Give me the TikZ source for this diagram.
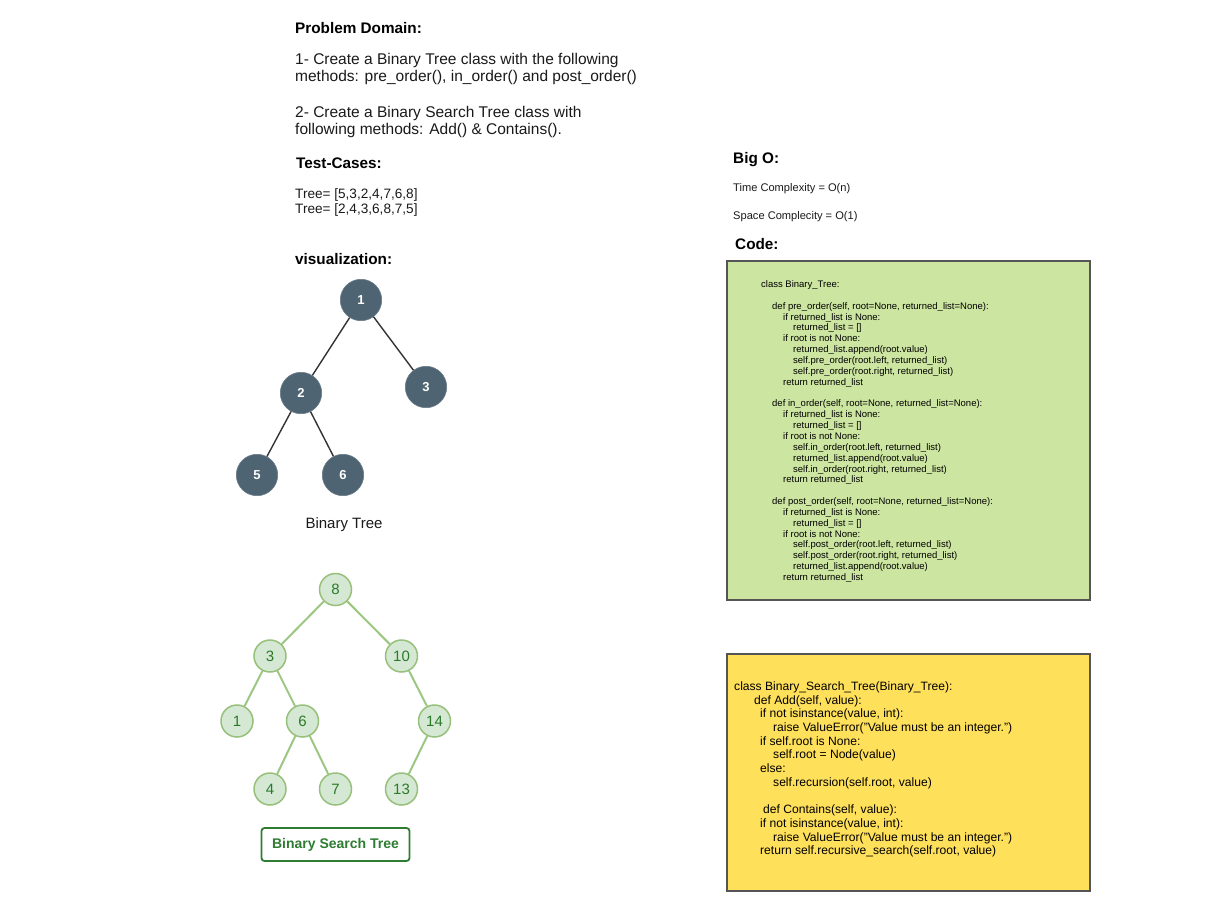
\documentclass[tikz,border=0pt]{standalone}
\usepackage{fontspec}
\setmainfont{Liberation Sans}
\definecolor{slate}{HTML}{4E6472}
\definecolor{treeedge}{HTML}{333333}
\definecolor{bstfill}{HTML}{D5E8D4}
\definecolor{bstborder}{HTML}{97C07A}
\definecolor{bstedge}{HTML}{9CC783}
\definecolor{bsttext}{HTML}{2A7A2A}
\definecolor{bstlabel}{HTML}{2E7D32}
\definecolor{codegreen}{HTML}{CCE5A0}
\definecolor{codeyellow}{HTML}{FFE05A}
\definecolor{boxborder}{HTML}{555555}
\definecolor{txt}{HTML}{1A1A1A}
\begin{document}
\begin{tikzpicture}[x=1pt,y=-1pt,
  heading/.style={anchor=base west,inner sep=0,text=black,font=\fontsize{15.3}{17}\selectfont\bfseries},
  body/.style={anchor=base west,inner sep=0,text=txt,font=\fontsize{15.5}{17}\selectfont},
  testline/.style={anchor=base west,inner sep=0,text=txt,font=\fontsize{13.6}{15}\selectfont},
  small/.style={anchor=base west,inner sep=0,text=txt,font=\fontsize{11.1}{13}\selectfont},
  btnode/.style={circle,fill=slate,draw=slate!85!white,line width=0.6pt,minimum size=41.4pt,inner sep=0,text=white,font=\fontsize{13}{15}\selectfont\bfseries},
  btedge/.style={draw=treeedge,line width=1.4pt},
  bstnode/.style={circle,fill=bstfill,draw=bstborder,line width=1.5pt,minimum size=32pt,inner sep=0,text=bsttext,font=\fontsize{15}{17}\selectfont},
  bstedge/.style={draw=bstedge,line width=2pt},
  codebox/.style={draw=boxborder,line width=1.2pt},
  codetext/.style={anchor=north west,inner sep=0,align=left,text=black}
]
\useasboundingbox[fill=white] (0,0) rectangle (1225,913);

% ---- left column texts
\node[heading] (pdh) at (295,33) {Problem Domain:};
\node[body] (pd1) at (295,64.6) {1- Create a Binary Tree class with the following};
\node[body] (pd2) at (295,81.6) {methods: pre\_order(), in\_order() and post\_order()};
\node[body] (pd3) at (295,117.6) {2- Create a Binary Search Tree class with};
\node[body] (pd4) at (295,134.6) {following methods: Add() \& Contains().};
\node[heading] (tch) at (296,168.5) {Test-Cases:};
\node[testline] (tc1) at (295,198.9) {Tree= [5,3,2,4,7,6,8]};
\node[testline] (tc2) at (295,213.9) {Tree= [2,4,3,6,8,7,5]};
\node[heading] (vis) at (295,264.5) {visualization:};

% ---- binary tree
\node[btnode] (b1) at (361,300) {1};
\node[btnode] (b2) at (301,393) {2};
\node[btnode] (b3) at (426,387) {3};
\node[btnode] (b5) at (257,475) {5};
\node[btnode] (b6) at (343,475) {6};
\draw[btedge] (b1) -- (b2);
\draw[btedge] (b1) -- (b3);
\draw[btedge] (b2) -- (b5);
\draw[btedge] (b2) -- (b6);
\node[inner sep=0,text=txt,font=\fontsize{15}{17}\selectfont] (btl) at (344,525) {Binary Tree};

% ---- binary search tree
\node[bstnode] (n8) at (335.5,589.5) {8};
\node[bstnode] (n3) at (270,656) {3};
\node[bstnode] (n10) at (401.5,656) {10};
\node[bstnode] (n1) at (237,721) {1};
\node[bstnode] (n6) at (302.5,721) {6};
\node[bstnode] (n14) at (434.5,721) {14};
\node[bstnode] (n4) at (270,789) {4};
\node[bstnode] (n7) at (335.5,789) {7};
\node[bstnode] (n13) at (401.5,789) {13};
\draw[bstedge] (n8) -- (n3);
\draw[bstedge] (n8) -- (n10);
\draw[bstedge] (n3) -- (n1);
\draw[bstedge] (n3) -- (n6);
\draw[bstedge] (n6) -- (n4);
\draw[bstedge] (n6) -- (n7);
\draw[bstedge] (n10) -- (n14);
\draw[bstedge] (n14) -- (n13);
\node[draw=bstlabel,line width=1.8pt,rounded corners=3pt,fill=white,minimum width=148pt,minimum height=33pt,inner sep=0,text=bstlabel,font=\fontsize{14}{16}\selectfont\bfseries] (bstl) at (335.5,844.5) {Binary Search Tree};

% ---- right column
\node[heading] (bigo) at (733,163.8) {Big O:};
\node[small] (tcx) at (733,191) {Time Complexity = O(n)};
\node[small] (scx) at (733,219) {Space Complecity = O(1)};
\node[heading] (code) at (735,249.4) {Code:};

% green code box
\draw[codebox,fill=codegreen] (727,261) rectangle (1090,600);
\node[codetext,font=\fontsize{9.5}{10.85}\selectfont] (gcode) at (761,280.5) {%
class Binary\_Tree:\\[10.85pt]
\hspace*{11pt}def pre\_order(self, root=None, returned\_list=None):\\
\hspace*{22pt}if returned\_list is None:\\
\hspace*{32pt}returned\_list = []\\
\hspace*{22pt}if root is not None:\\
\hspace*{32pt}returned\_list.append(root.value)\\
\hspace*{32pt}self.pre\_order(root.left, returned\_list)\\
\hspace*{32pt}self.pre\_order(root.right, returned\_list)\\
\hspace*{22pt}return returned\_list\\[10.85pt]
\hspace*{11pt}def in\_order(self, root=None, returned\_list=None):\\
\hspace*{22pt}if returned\_list is None:\\
\hspace*{32pt}returned\_list = []\\
\hspace*{22pt}if root is not None:\\
\hspace*{32pt}self.in\_order(root.left, returned\_list)\\
\hspace*{32pt}returned\_list.append(root.value)\\
\hspace*{32pt}self.in\_order(root.right, returned\_list)\\
\hspace*{22pt}return returned\_list\\[10.85pt]
\hspace*{11pt}def post\_order(self, root=None, returned\_list=None):\\
\hspace*{22pt}if returned\_list is None:\\
\hspace*{32pt}returned\_list = []\\
\hspace*{22pt}if root is not None:\\
\hspace*{32pt}self.post\_order(root.left, returned\_list)\\
\hspace*{32pt}self.post\_order(root.right, returned\_list)\\
\hspace*{32pt}returned\_list.append(root.value)\\
\hspace*{22pt}return returned\_list};

% yellow code box
\draw[codebox,fill=codeyellow] (727,654) rectangle (1090,891);
\node[codetext,font=\fontsize{12.1}{13.7}\selectfont] (ycode) at (734,681.5) {%
class Binary\_Search\_Tree(Binary\_Tree):\\
\hspace*{20pt}def Add(self, value):\\
\hspace*{26pt}if not isinstance(value, int):\\
\hspace*{39pt}raise ValueError("Value must be an integer.")\\
\hspace*{26pt}if self.root is None:\\
\hspace*{39pt}self.root = Node(value)\\
\hspace*{26pt}else:\\
\hspace*{39pt}self.recursion(self.root, value)\\[13.7pt]
\hspace*{29pt}def Contains(self, value):\\
\hspace*{26pt}if not isinstance(value, int):\\
\hspace*{39pt}raise ValueError("Value must be an integer.")\\
\hspace*{26pt}return self.recursive\_search(self.root, value)};
\end{tikzpicture}
\end{document}
